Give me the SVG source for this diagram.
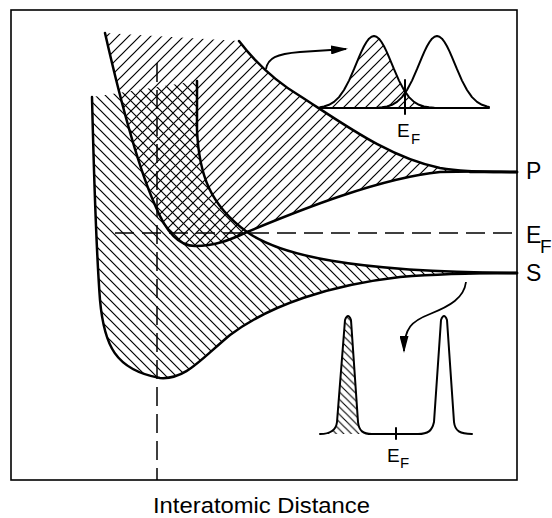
<svg xmlns="http://www.w3.org/2000/svg" width="552" height="518" viewBox="0 0 552 518">
  <style>
    .curve { fill: none; stroke: #000; stroke-width: 2.5; stroke-linecap: round; stroke-linejoin: round; }
    .thin { fill: none; stroke: #000; stroke-width: 2; stroke-linecap: round; stroke-linejoin: round; }
    .dash { fill: none; stroke: #000; stroke-width: 1.5; stroke-dasharray: 19 8; }
    .frame { fill: none; stroke: #000; stroke-width: 1.6; }
    .lbl { font-family: "Liberation Sans", Arial, sans-serif; fill: #000; }
    .arrow { fill: none; stroke: #000; stroke-width: 1.8; }
  </style>
  <defs>
    <pattern id="hatchP" patternUnits="userSpaceOnUse" width="11" height="11">
      <path d="M-1,1 L1,-1 M0,11 L11,0 M10,12 L12,10" stroke="#000" stroke-width="1.2"/>
    </pattern>
    <pattern id="hatchS" patternUnits="userSpaceOnUse" width="10" height="10">
      <path d="M-1,9 L1,11 M0,0 L10,10 M9,-1 L11,1" stroke="#000" stroke-width="1.2"/>
    </pattern>
    <pattern id="hatchSmall" patternUnits="userSpaceOnUse" width="7.5" height="7.5">
      <path d="M-1,6.5 L1,8.5 M0,0 L7.5,7.5 M6.5,-1 L8.5,1" stroke="#000" stroke-width="1.1"/>
    </pattern>
    <marker id="head" viewBox="0 0 17 9" refX="15" refY="4.5" markerWidth="17" markerHeight="9" markerUnits="userSpaceOnUse" orient="auto">
      <path d="M0,0 L17,4.5 L0,9 Z" fill="#000"/>
    </marker>
  </defs>

  <rect id="frame" class="frame" x="11" y="10" width="506" height="470"/>

  <g id="band-S">
    <path fill="url(#hatchS)" d="M92,97 C94,180 97,260 100,300 C104,345 115,370 160,378 C185,380 200,360 230,335 C270,305 330,285 400,277 C450,273 490,273 517,273 C350,272 280,255 247,232 C210,205 199,175 197,130 L197,81 Z"/>
  </g>
  <g id="band-P">
    <path fill="url(#hatchP)" d="M105,33 C118,90 135,160 155,205 C165,230 178,246 195,246 C215,246 230,240 247,232 C300,210 380,178 440,172 C480,171 500,172 517,172 C495,172 470,173 440,168 C390,158 345,125 300,96 C270,78 252,58 239,41 Z"/>
  </g>

  <g id="dashed-lines">
    <path class="dash" d="M115,233 L517,233"/>
    <path class="dash" d="M157,63 L157,480"/>
  </g>

  <g id="band-curves">
    <path class="curve" d="M92,97 C94,180 97,260 100,300 C104,345 115,370 160,378 C185,380 200,360 230,335 C270,305 330,285 400,277 C450,273 490,273 517,273"/>
    <path class="curve" d="M197,81 L197,130 C199,175 210,205 247,232 C280,255 350,272 517,273"/>
    <path class="curve" d="M105,33 C118,90 135,160 155,205 C165,230 178,246 195,246 C215,246 230,240 247,232 C300,210 380,178 440,172 C480,171 500,172 517,172"/>
    <path class="curve" d="M239,41 C252,58 270,78 300,96 C345,125 390,158 440,168 C470,173 495,172 517,172"/>
    <path class="curve" d="M470,172 L517,172 M470,273 L517,273"/>
  </g>

  <g id="inset-upper">
    <path fill="url(#hatchP)" d="M320,108 L320,107.2 L324,106.5 L329,104.8 L334,101.9 L339,97.1 L344,90 L349,80.6 L354,69.2 L356.5,63.1 L359,57.1 L361.5,51.4 L364,46.3 L366.5,42 L369,38.7 L371.5,36.7 L374,36 L376.5,36.7 L379,38.7 L381.5,42 L384,46.3 L386.5,51.4 L389,57.1 L391.5,63.1 L394,69.2 L399,80.6 L404,90 L409,97.1 L414,101.9 L419,104.8 L424,106.5 L429,107.3 L434,108 Z"/>
    <path class="thin" d="M320,108 L489,108"/>
    <path class="thin" d="M320,107.2 L324,106.5 L329,104.8 L334,101.9 L339,97.1 L344,90 L349,80.6 L354,69.2 L356.5,63.1 L359,57.1 L361.5,51.4 L364,46.3 L366.5,42 L369,38.7 L371.5,36.7 L374,36 L376.5,36.7 L379,38.7 L381.5,42 L384,46.3 L386.5,51.4 L389,57.1 L391.5,63.1 L394,69.2 L399,80.6 L404,90 L409,97.1 L414,101.9 L419,104.8 L424,106.5 L429,107.3 L434,107.8"/>
    <path class="thin" d="M377,107.8 L382,107.3 L387,106.5 L392,104.8 L397,101.9 L402,97.1 L407,90 L412,80.6 L417,69.2 L419.5,63.1 L422,57.1 L424.5,51.4 L427,46.3 L429.5,42 L432,38.7 L434.5,36.7 L437,36 L439.5,36.7 L442,38.7 L444.5,42 L447,46.3 L449.5,51.4 L452,57.1 L454.5,63.1 L457,69.2 L462,80.6 L467,90 L472,97.1 L477,101.9 L482,104.8 L487,106.5 L489,107"/>
    <path class="thin" d="M405,80 L405,114"/>
    <text class="lbl" x="397" y="137" font-size="19">E</text>
    <text class="lbl" x="411" y="144" font-size="15">F</text>
  </g>

  <g id="inset-lower">
    <path fill="url(#hatchSmall)" d="M320,434 C330,434 336,431 337,422 L345,320 Q348,312 351,320 L358,422 C359,431 362,434 366,434 Z"/>
    <path class="thin" d="M320,434 C330,434 336,431 337,422 L345,320 Q348,312 351,320 L358,422 C359,431 363,434 372,434 L418,434 C428,434 432,431 434,422 L441,320 Q444,312 447,320 L454,422 C455,431 460,434 472,434"/>
    <path class="thin" d="M396,428 L396,439"/>
    <text class="lbl" x="387" y="462" font-size="19">E</text>
    <text class="lbl" x="400" y="468" font-size="15">F</text>
  </g>

  <g id="arrows">
    <path class="arrow" marker-end="url(#head)" d="M266,69 C268,58 276,54 300,52 L346,49"/>
    <path class="arrow" marker-end="url(#head)" d="M466,282 C464,298 450,306 430,314 C412,321 404,328 404,351"/>
  </g>

  <g id="side-labels">
    <text class="lbl" x="526" y="179" font-size="23">P</text>
    <text class="lbl" x="526" y="243" font-size="23">E</text>
    <text class="lbl" x="540" y="253" font-size="19">F</text>
    <text class="lbl" x="526" y="281" font-size="23">S</text>
  </g>

  <text id="axis-title" class="lbl" x="153" y="513" font-size="22" textLength="217" lengthAdjust="spacingAndGlyphs">Interatomic Distance</text>
</svg>
